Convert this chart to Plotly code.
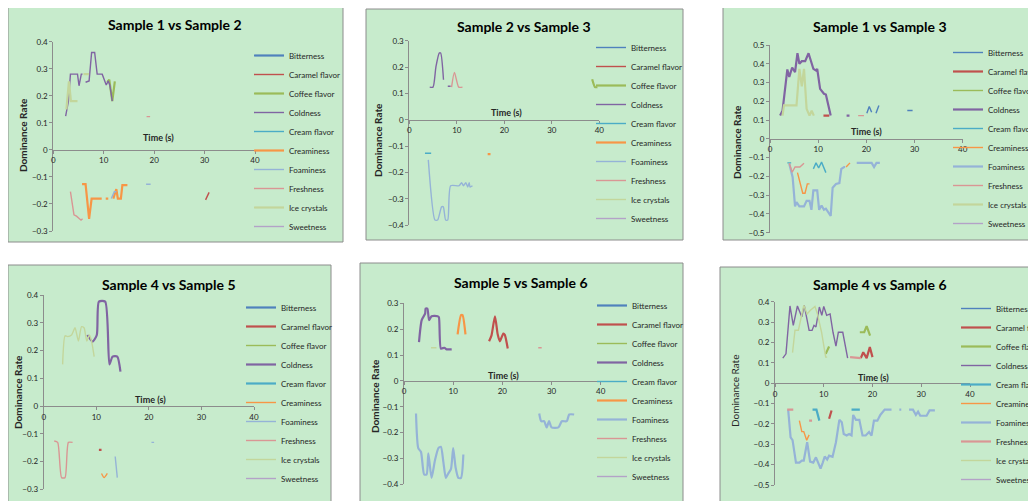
import plotly.graph_objects as go

# the page body adds an 8px margin, so the figure itself starts at (8, 8) in the window
W, H = 1036, 493
OFF = 8
FONT = "Lato, Noto Sans, sans-serif"
BG = "#C7EBCC"

attributes = ["Bitterness", "Caramel flavor", "Coffee flavor", "Coldness", "Cream flavor",
              "Creaminess", "Foaminess", "Freshness", "Ice crystals", "Sweetness"]
colors = ["#4F81BD", "#C0504D", "#9BBB59", "#8064A2", "#4BACC6",
          "#F79646", "#95B3D7", "#D99694", "#C3D69B", "#B3A2C7"]

# --- Sample 1 vs Sample 2 ---
s12_coldness_t = [2.45, 3.0, 3.4, 4.8, 5.1, 5.55, 5.8, None, 6.4, 7.1, 7.6, 8.2, 8.7, 9.7, 10.5, 10.9, 11.2, 11.7]
s12_coldness_v = [0.125, 0.18, 0.28, 0.28, 0.237, 0.28, 0.28, None, 0.25, 0.255, 0.36, 0.36, 0.28, 0.28, 0.24, 0.255, 0.24, 0.18]
s12_coffee_t = [10.7, 11.1, 11.7, 12.2]
s12_coffee_v = [0.25, 0.26, 0.18, 0.253]
s12_ice_t = [2.6, 3.1, 3.5, 4.8, None, 6.0, 7.1]
s12_ice_v = [0.15, 0.253, 0.18, 0.18, None, 0.28, 0.28]
s12_fresh_t = [3.4, 4.1, 4.6, 5.5, 5.8, None, 18.5, 19.2]
s12_fresh_v = [-0.154, -0.24, -0.245, -0.26, -0.255, None, 0.123, 0.123]
s12_creaminess_t = [5.7, 6.4, 7.1, 7.6, 9.6, None, 10.4, 10.9, None, 11.9, 12.5, 12.8, 13.4, 13.7, 14.1, 14.7]
s12_creaminess_v = [-0.127, -0.127, -0.255, -0.18, -0.18, None, -0.18, -0.18, None, -0.18, -0.145, -0.18, -0.18, -0.13, -0.13, -0.13]
s12_foam_t = [11.5, 12.1, 12.5, None, 18.4, 19.3]
s12_foam_v = [-0.18, -0.155, -0.155, None, -0.127, -0.127]
s12_caramel_t = [30.2, 30.9]
s12_caramel_v = [-0.185, -0.157]

# --- Sample 2 vs Sample 3 ---
s23_coldness_t = [4.3, 5.0, 5.6, 6.3, 6.6, 7.2, None, 8.1, 8.7]
s23_coldness_v = [0.124, 0.124, 0.2, 0.253, 0.253, 0.152, None, 0.127, 0.127]
s23_fresh_t = [8.9, 9.5, 10.4, 11.2]
s23_fresh_v = [0.124, 0.18, 0.124, 0.124]
s23_coffee_t = [38.5, 39.1, 39.6]
s23_coffee_v = [0.154, 0.124, 0.124]
s23_cream_t = [3.3, 4.6]
s23_cream_v = [-0.127, -0.127]
s23_creaminess_t = [16.5, 17.1]
s23_creaminess_v = [-0.13, -0.13]
s23_foam_t = [4.0, 5.4, 5.96, 6.8, 7.16, 7.65, 8.1, 8.7, 10.5, 11.0, 11.4, 11.9, 12.3, 12.6, 12.8, 13.3]
s23_foam_v = [-0.152, -0.38, -0.38, -0.33, -0.33, -0.38, -0.38, -0.25, -0.25, -0.238, -0.25, -0.238, -0.255, -0.238, -0.255, -0.25]

# --- Sample 1 vs Sample 3 ---
s13_coldness_t = [2.1, 2.6, 3.6, 4.0, 4.6, 5.2, 5.7, 6.1, 6.6, 7.3, 8.0, 9.0, 9.55, 9.8, 10.4, 11.2, 11.6, 12.6, None, 15.9, 16.5]
s13_coldness_v = [0.124, 0.15, 0.37, 0.33, 0.38, 0.355, 0.456, 0.4, 0.414, 0.414, 0.456, 0.373, 0.364, 0.373, 0.266, 0.24, 0.236, 0.124, None, 0.124, 0.124]
s13_ice_t = [2.6, 2.9, 5.5, 6.1, 6.6, 7.06, 7.6, 8.2, 8.65, 9.1]
s13_ice_v = [0.124, 0.178, 0.178, 0.373, 0.28, 0.373, 0.16, 0.124, 0.15, 0.124]
s13_caramel_t = [11.1, 12.3]
s13_caramel_v = [0.124, 0.124]
s13_fresh_t = [4.0, 4.6, 5.2, 6.2, 7.06, None, 18.3, 19.5]
s13_fresh_v = [-0.13, -0.178, -0.15, -0.15, -0.13, None, 0.124, 0.124]
s13_bitter_t = [20.1, 20.6, 21.1, None, 22.0, 22.6, None, 28.5, 29.6]
s13_bitter_v = [0.137, 0.172, 0.142, None, 0.137, 0.178, None, 0.151, 0.151]
s13_cream_t = [3.6, 4.4, None, 9.0, 9.55, 10.1, 10.7, 11.6]
s13_cream_v = [-0.128, -0.128, None, -0.16, -0.128, -0.155, -0.124, -0.18]
s13_creaminess_t = [5.7, 6.8, 7.27, 7.75, 8.2, None, 15.8, 16.6]
s13_creaminess_v = [-0.18, -0.29, -0.29, -0.24, -0.24, None, -0.15, -0.128]
s13_foam_t = [4.0, 4.7, 5.2, 5.5, 6.1, 7.06, 7.6, 8.2, 8.6, 9.0, 9.8, 10.2, 10.7, 11.2, 11.6, 12.0, 12.6,
              13.0, 13.7, 14.4, 14.8, 15.4, 15.6, None, 18.0, 21.1, 21.6, 22.1, 22.8]
s13_foam_v = [-0.133, -0.204, -0.36, -0.337, -0.36, -0.36, -0.33, -0.33, -0.378, -0.275, -0.275, -0.378, -0.355,
              -0.378, -0.372, -0.385, -0.41, -0.26, -0.24, -0.236, -0.16, -0.15, -0.15, None,
              -0.128, -0.128, -0.15, -0.128, -0.128]

# --- Sample 4 vs Sample 5 ---
s45_ice_t = [3.6, 4.06, 4.56, 5.3, 5.96, 6.6, 7.2, 7.67, 8.2, 8.7, 9.1, 9.6]
s45_ice_v = [0.15, 0.253, 0.25, 0.256, 0.282, 0.234, 0.286, 0.282, 0.234, 0.256, 0.234, 0.178]
s45_coldness_t = [8.3, 9.3, 10.1, 10.5, 11.7, 12.5, 13.1, 14.0, 14.6]
s45_coldness_v = [0.256, 0.232, 0.256, 0.376, 0.376, 0.15, 0.178, 0.178, 0.124]
s45_fresh_t = [2.0, 2.66, 3.4, 4.06, 4.7, 5.5]
s45_fresh_v = [-0.126, -0.131, -0.258, -0.258, -0.131, -0.131]
s45_caramel_t = [10.5, 11.0]
s45_caramel_v = [-0.158, -0.158]
s45_creaminess_t = [11.0, 11.5, 12.1]
s45_creaminess_v = [-0.243, -0.258, -0.243]
s45_foam_t = [13.6, 14.0, None, 20.5, 21.0]
s45_foam_v = [-0.182, -0.258, None, -0.131, -0.131]

# --- Sample 5 vs Sample 6 ---
s56_coldness_t = [3.05, 3.6, 4.3, 4.4, 4.75, 5.1, 5.6, 6.85, 7.1, 7.5, 8.2, 8.7, 9.7]
s56_coldness_v = [0.15, 0.235, 0.26, 0.28, 0.28, 0.235, 0.25, 0.25, 0.246, 0.125, 0.128, 0.122, 0.122]
s56_ice_t = [5.5, 6.6]
s56_ice_v = [0.128, 0.128]
s56_creaminess_t = [10.9, 11.6, 11.9, 12.5]
s56_creaminess_v = [0.18, 0.254, 0.254, 0.18]
s56_caramel_t = [17.3, 17.8, 18.5, 19.05, 19.5, 20.2, 20.5, 21.1]
s56_caramel_v = [0.153, 0.176, 0.25, 0.18, 0.153, 0.183, 0.178, 0.125]
s56_fresh_t = [27.3, 28.0]
s56_fresh_v = [0.128, 0.128]
s56_foam_t = [2.44, 2.9, 3.46, 4.1, 4.6, 4.95, 5.6, 6.3, 7.0, 7.5, 8.0, 8.5, 9.0, 9.56, 10.0, 10.5, 11.05, 11.6, 12.07,
              None, 27.5, 27.9, 28.5, 29.0, 29.5, 30.0, 31.4, 32.1, 33.1, 33.6, 34.6]
s56_foam_v = [-0.126, -0.26, -0.275, -0.362, -0.362, -0.28, -0.375, -0.307, -0.26, -0.255, -0.313, -0.375, -0.358,
              -0.34, -0.26, -0.336, -0.375, -0.375, -0.285,
              None, -0.126, -0.156, -0.156, -0.18, -0.156, -0.18, -0.18, -0.156, -0.156, -0.13, -0.13]

# --- Sample 4 vs Sample 6 ---
s46_coldness_t = [1.6, 2.25, 3.07, 3.75, 4.6, 5.5, 6.0, 6.5, 7.0, 7.6, 8.0, 8.4, 9.1, 9.6, 10.0, 10.6, 11.3,
                  11.9, 12.5, 13.0, 13.9, 14.9]
s46_coldness_v = [0.123, 0.144, 0.379, 0.284, 0.379, 0.325, 0.382, 0.325, 0.259, 0.259, 0.284, 0.276, 0.374,
                  0.333, 0.377, 0.333, 0.34, 0.25, 0.182, 0.25, 0.25, 0.123]
s46_ice_t = [3.6, 4.1, 4.8, 5.9, 6.6, 7.2, 8.2, 8.7, 9.55, 10.4, 10.7]
s46_ice_v = [0.15, 0.26, 0.26, 0.382, 0.34, 0.357, 0.377, 0.34, 0.25, 0.128, 0.128]
s46_coffee_t = [10.4, 11.1, None, 17.4, 18.3, 18.8, 19.5]
s46_coffee_v = [0.144, 0.18, None, 0.25, 0.25, 0.28, 0.234]
s46_fresh_t = [2.5, 3.75, None, 7.0, 7.6, None, 15.4, 17.6]
s46_fresh_v = [-0.13, -0.13, None, -0.184, -0.184, None, 0.128, 0.123]
s46_caramel_t = [11.1, 11.6, None, 17.6, 18.1, 18.8, 19.45, 20.0]
s46_caramel_v = [-0.175, -0.134, None, 0.123, 0.152, 0.123, 0.177, 0.128]
s46_creaminess_t = [5.0, 5.5, 5.9, 6.5, 7.0]
s46_creaminess_v = [-0.184, -0.238, -0.238, -0.28, -0.254]
s46_cream_t = [7.7, 8.5, 9.1, None, 15.7, 17.4]
s46_cream_v = [-0.13, -0.13, -0.184, None, -0.13, -0.13]
s46_foam_t = [2.7, 3.2, 3.6, 4.3, 5.0, 5.5, 5.9, 6.6, 7.2, 7.85, 8.4, 8.9, 9.35, 9.8, 10.2, 10.7, 11.1, 11.8,
              12.5, 13.2, 13.7, 14.1, 14.7, 15.2, 15.7, 16.04, 16.6, 17.3, 17.95, 18.6, 19.3, 19.8, 20.3, 21.0,
              21.6, 22.5, 23.9, None, 25.5, 25.9, None, 27.5, 28.3, 28.9, 29.35, 29.8, 31.1, 31.7, 32.8]
s46_foam_v = [-0.13, -0.266, -0.28, -0.39, -0.39, -0.38, -0.38, -0.29, -0.385, -0.39, -0.364, -0.39, -0.42,
              -0.39, -0.36, -0.375, -0.356, -0.362, -0.29, -0.18, -0.192, -0.25, -0.257, -0.25, -0.257, -0.156,
              -0.18, -0.18, -0.257, -0.257, -0.24, -0.257, -0.184, -0.184, -0.156, -0.13, -0.13, None,
              -0.13, -0.13, None, -0.13, -0.13, -0.156, -0.14, -0.16, -0.16, -0.134, -0.134]


def px(x):
    # window pixel -> paper fraction
    return (x - OFF) / W


def py(y):
    return 1 - (y - OFF) / H


# layout of each panel in window pixels: frame box, axis box (t=0 .. t=40, top .. bottom), text positions
panels = [
    dict(title="Sample 1 vs Sample 2", yr=(-0.3, 0.4), smooth=False,
         frame=(8, 7, 343, 242), axes=(53.3, 255, 41.7, 231),
         title_xy=(175, 24), time_xy=(158, 137), ylab_xy=(23, 135), leg=(289, 141), ylab_bold=True,
         thick=["Bitterness", "Coffee flavor", "Creaminess", "Ice crystals"],
         series={"Coldness": (s12_coldness_t, s12_coldness_v), "Coffee flavor": (s12_coffee_t, s12_coffee_v),
                 "Ice crystals": (s12_ice_t, s12_ice_v), "Freshness": (s12_fresh_t, s12_fresh_v),
                 "Creaminess": (s12_creaminess_t, s12_creaminess_v), "Foaminess": (s12_foam_t, s12_foam_v),
                 "Caramel flavor": (s12_caramel_t, s12_caramel_v)}),
    dict(title="Sample 2 vs Sample 3", yr=(-0.4, 0.3), smooth=True,
         frame=(366, 9, 683, 240), axes=(409.3, 599.3, 40.7, 225.3),
         title_xy=(524, 26), time_xy=(506, 113), ylab_xy=(378, 140), leg=(631, 133), ylab_bold=True,
         thick=["Coffee flavor", "Creaminess"],
         series={"Coldness": (s23_coldness_t, s23_coldness_v), "Freshness": (s23_fresh_t, s23_fresh_v),
                 "Coffee flavor": (s23_coffee_t, s23_coffee_v), "Cream flavor": (s23_cream_t, s23_cream_v),
                 "Creaminess": (s23_creaminess_t, s23_creaminess_v), "Foaminess": (s23_foam_t, s23_foam_v)}),
    dict(title="Sample 1 vs Sample 3", yr=(-0.5, 0.5), smooth=False,
         frame=(723, 7, 1050, 240), axes=(770, 962.7, 45, 232.7),
         title_xy=(880, 26), time_xy=(866, 132), ylab_xy=(737, 142), leg=(988, 138), ylab_bold=True,
         thick=["Caramel flavor", "Coldness", "Foaminess", "Ice crystals"],
         series={"Coldness": (s13_coldness_t, s13_coldness_v), "Ice crystals": (s13_ice_t, s13_ice_v),
                 "Caramel flavor": (s13_caramel_t, s13_caramel_v), "Freshness": (s13_fresh_t, s13_fresh_v),
                 "Bitterness": (s13_bitter_t, s13_bitter_v), "Cream flavor": (s13_cream_t, s13_cream_v),
                 "Creaminess": (s13_creaminess_t, s13_creaminess_v), "Foaminess": (s13_foam_t, s13_foam_v)}),
    dict(title="Sample 4 vs Sample 5", yr=(-0.3, 0.4), smooth=True,
         frame=(8, 265, 331, 506), axes=(43.7, 254, 295, 489.3),
         title_xy=(169, 284), time_xy=(150, 399), ylab_xy=(18, 392), leg=(281, 393), ylab_bold=True,
         thick=["Bitterness", "Caramel flavor", "Coldness", "Cream flavor"],
         series={"Ice crystals": (s45_ice_t, s45_ice_v), "Coldness": (s45_coldness_t, s45_coldness_v),
                 "Freshness": (s45_fresh_t, s45_fresh_v), "Caramel flavor": (s45_caramel_t, s45_caramel_v),
                 "Creaminess": (s45_creaminess_t, s45_creaminess_v), "Foaminess": (s45_foam_t, s45_foam_v)}),
    dict(title="Sample 5 vs Sample 6", yr=(-0.4, 0.3), smooth=True,
         frame=(360, 263, 683, 506), axes=(404, 600.7, 303.3, 484.3),
         title_xy=(521, 282), time_xy=(503, 375), ylab_xy=(375, 396), leg=(632, 391), ylab_bold=True,
         thick=["Bitterness", "Caramel flavor", "Coldness", "Creaminess", "Foaminess"],
         series={"Coldness": (s56_coldness_t, s56_coldness_v), "Ice crystals": (s56_ice_t, s56_ice_v),
                 "Creaminess": (s56_creaminess_t, s56_creaminess_v), "Caramel flavor": (s56_caramel_t, s56_caramel_v),
                 "Freshness": (s56_fresh_t, s56_fresh_v), "Foaminess": (s56_foam_t, s56_foam_v)}),
    dict(title="Sample 4 vs Sample 6", yr=(-0.5, 0.4), smooth=False,
         frame=(720, 267, 1050, 506), axes=(775, 970, 301.7, 485),
         title_xy=(880, 284), time_xy=(873, 377), ylab_xy=(735, 391), leg=(996, 394), ylab_bold=False,
         thick=["Caramel flavor", "Coffee flavor", "Cream flavor", "Foaminess", "Freshness"],
         series={"Coldness": (s46_coldness_t, s46_coldness_v), "Ice crystals": (s46_ice_t, s46_ice_v),
                 "Coffee flavor": (s46_coffee_t, s46_coffee_v), "Freshness": (s46_fresh_t, s46_fresh_v),
                 "Caramel flavor": (s46_caramel_t, s46_caramel_v), "Creaminess": (s46_creaminess_t, s46_creaminess_v),
                 "Cream flavor": (s46_cream_t, s46_cream_v), "Foaminess": (s46_foam_t, s46_foam_v)}),
]

fig = go.Figure()
shapes, annotations = [], []
layout = {}

for k, p in enumerate(panels):
    n = "" if k == 0 else str(k + 1)
    leg_id = "legend" + n
    x0, x1, yt, yb = p["axes"]
    ymin, ymax = p["yr"]
    ydom = [py(yb), py(yt)]
    zero_pos = ydom[0] + (0 - ymin) / (ymax - ymin) * (ydom[1] - ydom[0])

    for name, col in zip(attributes, colors):
        # series with no dominance in this pair still get a legend entry
        t, v = p["series"].get(name, ([None], [None]))
        fig.add_trace(go.Scatter(
            x=t, y=v, name=name, mode="lines", connectgaps=False,
            line=dict(color=col, width=2.2 if name in p["thick"] else 1.4,
                      shape="spline" if p["smooth"] else "linear", smoothing=0.6),
            xaxis="x" + n, yaxis="y" + n, legend=leg_id, hoverinfo="skip"))

    layout["xaxis" + n] = dict(
        domain=[px(x0), px(x1)], range=[0, 40], anchor="free", position=zero_pos,
        showline=True, linecolor="#8C8C8C", linewidth=1, ticks="outside", ticklen=3,
        tickcolor="#8C8C8C", tick0=0, dtick=10, showgrid=False, zeroline=False,
        tickfont=dict(family=FONT, size=8, color="#262626"), fixedrange=True)
    layout["yaxis" + n] = dict(
        domain=ydom, range=[ymin, ymax], anchor="x" + n, showline=True, linecolor="#8C8C8C",
        linewidth=1, ticks="outside", ticklen=3, tickcolor="#8C8C8C", tick0=0, dtick=0.1,
        showgrid=False, zeroline=False, tickfont=dict(family=FONT, size=8, color="#262626"),
        fixedrange=True)
    layout[leg_id] = dict(
        x=px(p["leg"][0] - 40), y=py(p["leg"][1]), xanchor="left", yanchor="middle",
        bgcolor="rgba(0,0,0,0)", borderwidth=0, itemwidth=30,
        font=dict(family=FONT, size=8, color="#262626"))

    fx0, fy0, fx1, fy1 = p["frame"]
    shapes.append(dict(type="rect", xref="paper", yref="paper", x0=px(fx0), x1=px(fx1),
                       y0=py(fy1), y1=py(fy0), fillcolor=BG, line=dict(color="#8C8C8C", width=1),
                       layer="below"))
    annotations.append(dict(text="<b>%s</b>" % p["title"], x=px(p["title_xy"][0]), y=py(p["title_xy"][1]),
                            xref="paper", yref="paper", xanchor="center", yanchor="middle", showarrow=False,
                            font=dict(family=FONT, size=14, color="#000000")))
    annotations.append(dict(text="<b>Time (s)</b>", x=px(p["time_xy"][0]), y=py(p["time_xy"][1]),
                            xref="paper", yref="paper", xanchor="center", yanchor="middle", showarrow=False,
                            font=dict(family=FONT, size=9, color="#262626")))
    ylab = "<b>Dominance Rate</b>" if p["ylab_bold"] else "Dominance Rate"
    annotations.append(dict(text=ylab, x=px(p["ylab_xy"][0]), y=py(p["ylab_xy"][1]),
                            xref="paper", yref="paper", xanchor="center", yanchor="middle",
                            showarrow=False, textangle=-90,
                            font=dict(family=FONT, size=10, color="#262626")))

fig.update_layout(
    width=W, height=H,
    margin=dict(l=0, r=0, t=0, b=0, autoexpand=False),
    paper_bgcolor="white", plot_bgcolor="rgba(0,0,0,0)",
    shapes=shapes, annotations=annotations,
    **layout)

fig.write_html("out.html")
